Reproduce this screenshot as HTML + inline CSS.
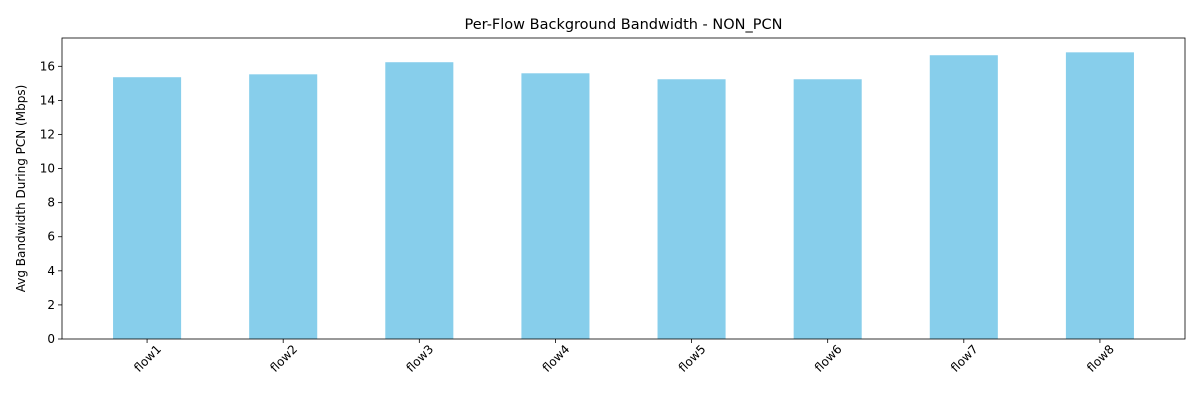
<!DOCTYPE html>
<html><head><meta charset="utf-8"><style>
body{margin:0;background:#fff;}
svg{font-family:"DejaVu Sans","Liberation Sans",sans-serif;}
</style></head><body>
<svg id="chart" width="1200" height="400"></svg>
<script>
const categories=["flow1","flow2","flow3","flow4","flow5","flow6","flow7","flow8"];
const values=[15.36,15.53,16.24,15.59,15.24,15.24,16.65,16.82];
const yTicks=[0,2,4,6,8,10,12,14,16];
const L=62,R=1185,T=38,B=339;
const yMax=Math.max(...values)*1.05;
const xMin=-0.625,xMax=categories.length-1+0.625;
const xs=i=>L+(i-xMin)/(xMax-xMin)*(R-L);
const ys=v=>B-v/yMax*(B-T);
const svg=document.getElementById('chart');
const NS='http://www.w3.org/2000/svg';
function mk(tag,attrs,txt){const e=document.createElementNS(NS,tag);for(const k in attrs)e.setAttribute(k,attrs[k]);if(txt!=null)e.textContent=txt;svg.appendChild(e);return e;}
const bw=0.5*(R-L)/(xMax-xMin);
values.forEach((v,i)=>{
 const r=mk('rect',{x:xs(i)-bw/2,y:ys(v),width:bw,height:B-ys(v),fill:'#87ceeb'});
 
 
});
yTicks.forEach(t=>{
 const y=ys(t);
 const l=mk('line',{x1:L-4,x2:L,y1:y,y2:y,stroke:'#000','stroke-width':0.8});
 
 
 const tx=mk('text',{x:L-7,y:y+4,'text-anchor':'end','font-size':12},t);
 
 
});
categories.forEach((c,i)=>{
 const x=xs(i);
 const l=mk('line',{x1:x,x2:x,y1:B,y2:B+4,stroke:'#000','stroke-width':0.8});
 
 
 const ax=x+4;
 const tx=mk('text',{x:ax+8,y:B+12,'text-anchor':'end','font-size':12,transform:`rotate(-45 ${ax+8} ${B+8})`},c);
 
 
});
const f=mk('rect',{x:L,y:T,width:R-L,height:B-T,fill:'none',stroke:'#000','stroke-width':0.8});


const ti=mk('text',{x:(L+R)/2,y:29,'text-anchor':'middle','font-size':14.5},'Per-Flow Background Bandwidth - NON_PCN');


const yl=mk('text',{x:25,y:(T+B)/2,'text-anchor':'middle','font-size':12,transform:`rotate(-90 25 ${(T+B)/2})`},'Avg Bandwidth During PCN (Mbps)');


</script>
</body></html>
